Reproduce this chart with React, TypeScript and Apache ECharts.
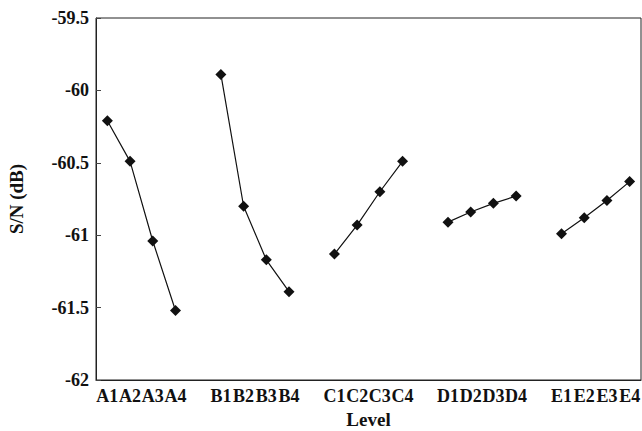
import React, { useEffect, useRef } from "react";
import * as echarts from "echarts";

const categories = [
  "A1", "A2", "A3", "A4", "",
  "B1", "B2", "B3", "B4", "",
  "C1", "C2", "C3", "C4", "",
  "D1", "D2", "D3", "D4", "",
  "E1", "E2", "E3", "E4",
];
const factorA = [-60.21, -60.49, -61.04, -61.52];
const factorB = [-59.89, -60.8, -61.17, -61.39];
const factorC = [-61.13, -60.93, -60.7, -60.49];
const factorD = [-60.91, -60.84, -60.78, -60.73];
const factorE = [-60.99, -60.88, -60.76, -60.63];
const groups: { prefix: string; values: number[] }[] = [
  { prefix: "A", values: factorA },
  { prefix: "B", values: factorB },
  { prefix: "C", values: factorC },
  { prefix: "D", values: factorD },
  { prefix: "E", values: factorE },
];

const FONT = "Liberation Serif, Times New Roman, serif";

export default function App() {
  const ref = useRef<HTMLDivElement>(null);
  useEffect(() => {
    document.body.style.margin = "0";
    if (!ref.current) return;
    const chart = echarts.init(ref.current, undefined, { renderer: "svg" });
    chart.setOption({
      animation: false,
      backgroundColor: "#ffffff",
      textStyle: { fontFamily: FONT },
      grid: {
        left: 96,
        right: 1,
        top: 18,
        bottom: 51,
        containLabel: false,
        outerBoundsMode: "none",
        show: true,
        borderColor: "#222",
        borderWidth: 1,
      },
      xAxis: {
        type: "category",
        data: categories,
        boundaryGap: true,
        name: "Level",
        nameLocation: "middle",
        nameGap: 30,
        nameTextStyle: { fontFamily: FONT, fontWeight: "bold", fontSize: 19, color: "#111" },
        axisLine: { lineStyle: { color: "#222", width: 1 } },
        axisTick: { inside: true, length: 5, interval: 0, lineStyle: { color: "#444" } },
        axisLabel: {
          interval: 0,
          margin: 7,
          fontFamily: FONT,
          fontWeight: "bold",
          fontSize: 18,
          color: "#111",
        },
        splitLine: { show: false },
      },
      yAxis: {
        type: "value",
        min: -62,
        max: -59.5,
        interval: 0.5,
        name: "S/N (dB)",
        nameLocation: "middle",
        nameGap: 70,
        nameTextStyle: { fontFamily: FONT, fontWeight: "bold", fontSize: 19, color: "#111" },
        axisLine: { show: true, lineStyle: { color: "#222", width: 1 } },
        axisTick: { show: true, inside: true, length: 5, lineStyle: { color: "#444" } },
        axisLabel: {
          margin: 7,
          fontFamily: FONT,
          fontWeight: "bold",
          fontSize: 18,
          color: "#111",
        },
        splitLine: { show: false },
      },
      series: groups.map((g) => ({
        type: "line",
        name: g.prefix,
        data: g.values.map((v, i) => [g.prefix + (i + 1), v]),
        symbol: "diamond",
        symbolSize: 11,
        lineStyle: { color: "#111", width: 1.2 },
        itemStyle: { color: "#111" },
      })),
    });
    return () => chart.dispose();
  }, []);
  return <div ref={ref} style={{ width: 642, height: 431 }} />;
}
